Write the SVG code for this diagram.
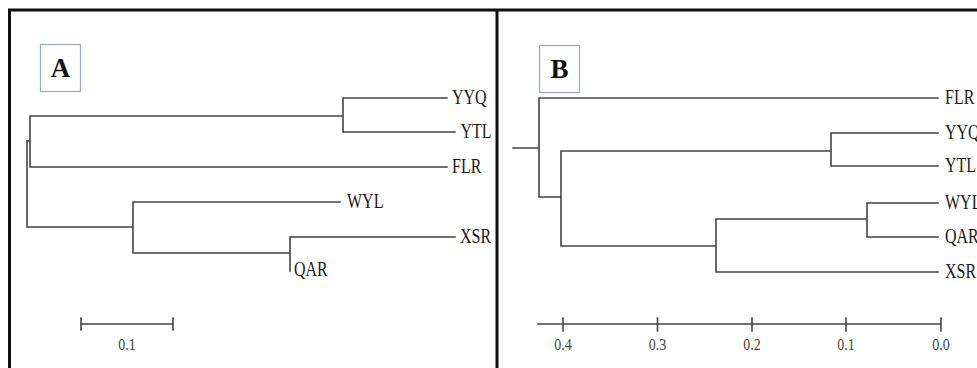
<svg xmlns="http://www.w3.org/2000/svg" width="977" height="368" viewBox="0 0 977 368">
<style>
.frame{fill:none;stroke:#111;stroke-width:3}
.panelbox{fill:#fff;stroke:#9aaac4;stroke-width:1.2}
.br{fill:none;stroke:#444;stroke-width:1.6;stroke-linecap:square}
.lbl{font-family:"Liberation Serif","Times New Roman",serif;font-size:16px;fill:#1a1a1a}
.pl{font-family:"Liberation Serif","Times New Roman",serif;font-size:27px;font-weight:bold;fill:#111;text-anchor:middle}
.ax{font-family:"Liberation Serif","Times New Roman",serif;font-size:14px;fill:#444;text-anchor:middle}
</style>
<rect width="977" height="368" fill="#fff"/>
<g id="frame">
<rect class="frame" x="9.5" y="10" width="980" height="370"/>
<line class="frame" x1="497" y1="10" x2="497" y2="368"/>
</g>
<g id="panelA-label"><rect class="panelbox" x="40.5" y="44.5" width="40" height="47"/><text class="pl" x="60.5" y="77">A</text></g>
<g id="panelB-label"><rect class="panelbox" x="539.5" y="45.5" width="40" height="47"/><text class="pl" x="559.5" y="78">B</text></g>
<g id="connectors">
<path class="br" d="M27,141 H30 M30,116 V167 M30,116 H343 M343,98 V132 M343,98 H447 M343,132 H455 M30,167 H447"/>
<path class="br" d="M27,141 V227 H133 M133,202 V253 M133,202 H340 M133,253 H290 M290,237 V271 M290,237 H455"/>
<path class="br" d="M81,324 H173 M81,318 V330 M173,318 V330"/>
<path class="br" d="M513,148 H539 M539,98 V197 M539,98 H938 M539,197 H561 M561,151 V246 M561,151 H831 M831,133 V166 M831,133 H938 M831,166 H938 M561,246 H716 M716,219 V272 M716,219 H867 M867,203 V237 M867,203 H938 M867,237 H938 M716,272 H938"/>
<path class="br" d="M538,324 H941 M563,318 V331 M657.5,318 V331 M752,318 V331 M846,318 V331 M941,318 V331"/>
</g>
<g id="A-YYQ"><text class="lbl" transform="translate(452,103.5) scale(1,1.3)">YYQ</text></g>
<g id="A-YTL"><text class="lbl" transform="translate(460.5,137.5) scale(1,1.3)">YTL</text></g>
<g id="A-FLR"><text class="lbl" transform="translate(452,172.5) scale(1,1.3)">FLR</text></g>
<g id="A-WYL"><text class="lbl" transform="translate(347,207.5) scale(1,1.3)">WYL</text></g>
<g id="A-XSR"><text class="lbl" transform="translate(460,242.5) scale(1,1.3)">XSR</text></g>
<g id="A-QAR"><text class="lbl" transform="translate(294,276) scale(1,1.3)">QAR</text></g>
<g id="A-scale"><text class="ax" transform="translate(127,350) scale(1,1.25)">0.1</text></g>
<g id="B-FLR"><text class="lbl" transform="translate(945,103.5) scale(1,1.3)">FLR</text></g>
<g id="B-YYQ"><text class="lbl" transform="translate(945,138.5) scale(1,1.3)">YYQ</text></g>
<g id="B-YTL"><text class="lbl" transform="translate(945,171.5) scale(1,1.3)">YTL</text></g>
<g id="B-WYL"><text class="lbl" transform="translate(945,208.5) scale(1,1.3)">WYL</text></g>
<g id="B-QAR"><text class="lbl" transform="translate(945,242.5) scale(1,1.3)">QAR</text></g>
<g id="B-XSR"><text class="lbl" transform="translate(945,277.5) scale(1,1.3)">XSR</text></g>
<g id="B-axis">
<text class="ax" transform="translate(563,350) scale(1,1.25)">0.4</text>
<text class="ax" transform="translate(657.5,350) scale(1,1.25)">0.3</text>
<text class="ax" transform="translate(752,350) scale(1,1.25)">0.2</text>
<text class="ax" transform="translate(846,350) scale(1,1.25)">0.1</text>
<text class="ax" transform="translate(941,350) scale(1,1.25)">0.0</text>
</g>
</svg>
